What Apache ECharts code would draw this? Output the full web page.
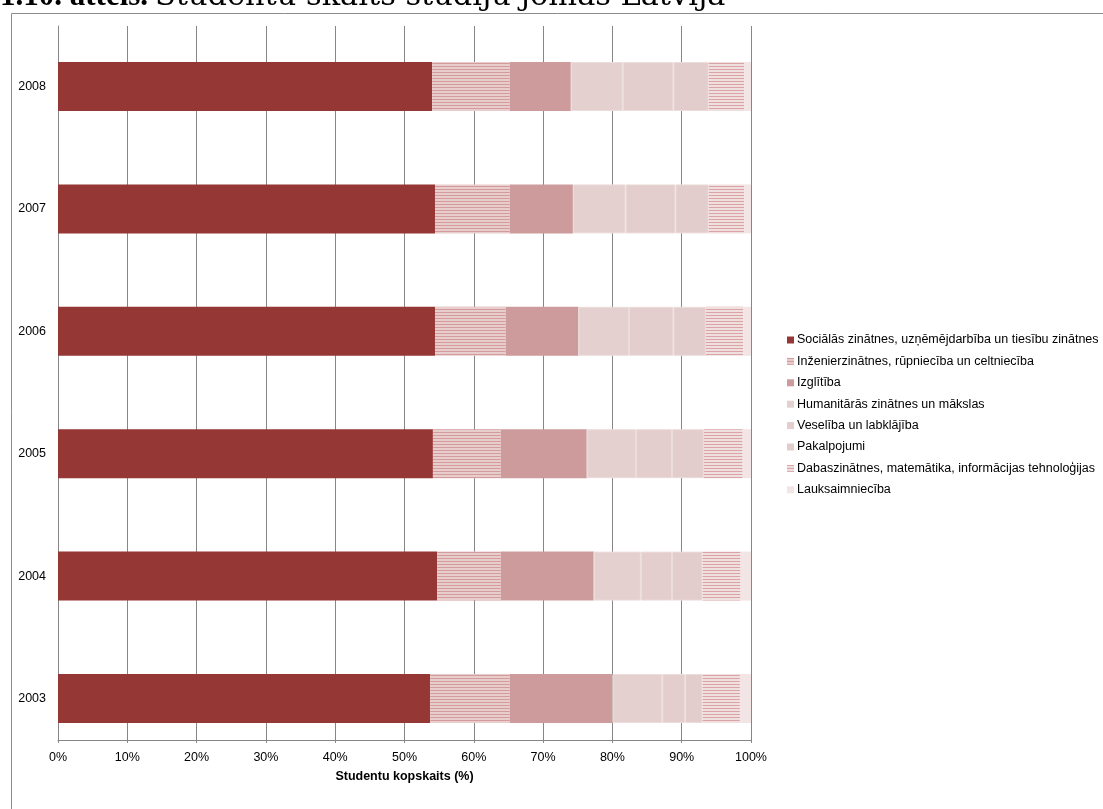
<!DOCTYPE html>
<html>
<head>
<meta charset="utf-8">
<script src="https://cdn.jsdelivr.net/npm/echarts@6/dist/echarts.min.js"></script>
<style>
html,body{margin:0;padding:0;background:#fff;}
#c{width:1103px;height:809px;}
</style>
</head>
<body>
<div id="c"></div>
<script>
const years = ['2003','2004','2005','2006','2007','2008'];
const seriesNames = [
  'Sociālās zinātnes, uzņēmējdarbība un tiesību zinātnes',
  'Inženierzinātnes, rūpniecība un celtniecība',
  'Izglītība',
  'Humanitārās zinātnes un mākslas',
  'Veselība un labklājība',
  'Pakalpojumi',
  'Dabaszinātnes, matemātika, informācijas tehnoloģijas',
  'Lauksaimniecība'
];
// values per series, order: 2003..2008 (percent of total)
const social      = [53.7, 54.7, 54.1, 54.4, 54.4, 54.0];
const engineering = [11.5,  9.2,  9.8, 10.2, 10.8, 11.2];
const education   = [14.8, 13.4, 12.4, 10.5,  9.1,  8.8];
const humanities  = [ 7.2,  6.8,  7.1,  7.3,  7.6,  7.5];
const health      = [ 3.3,  4.5,  5.2,  6.4,  7.2,  7.3];
const services    = [ 2.5,  4.4,  4.6,  4.7,  4.8,  5.1];
const science     = [ 5.4,  5.5,  5.6,  5.4,  5.1,  5.1];
const agriculture = [ 1.6,  1.5,  1.2,  1.1,  1.0,  1.0];
const xTickLabels = ['0%','10%','20%','30%','40%','50%','60%','70%','80%','90%','100%'];

function stripes(base, line){
  const cv = document.createElement('canvas');
  cv.width = 4; cv.height = 3;
  const ctx = cv.getContext('2d');
  ctx.fillStyle = base; ctx.fillRect(0,0,4,3);
  ctx.fillStyle = line; ctx.fillRect(0,0,4,1);
  return {image: cv, repeat: 'repeat'};
}

const allData = [social, engineering, education, humanities, health, services, science, agriculture];
const colors = [
  '#953735',
  stripes('#E8CDCD', '#D59A9C'),
  '#CD9B9B',
  '#E5D0D0',
  '#E4CDCD',
  '#E3CCCC',
  stripes('#F0DFDF', '#DBA3A5'),
  '#F3E5E5'
];
const borders = [null, null, null, '#ECDCDC', '#ECDCDC', '#ECDCDC', null, null];

const chart = echarts.init(document.getElementById('c'), null, {renderer:'canvas'});
const font = 'Liberation Sans, Arial, sans-serif';
const fs = 12.5;
chart.setOption({
  animation: false,
  backgroundColor: '#fff',
  grid: [
    {left: 58, right: 352, top: 25.3, bottom: 49.3, containLabel: false},
    {left: 58, right: 352, top: 26, bottom: 69, containLabel: false}
  ],
  legend: {
    orient: 'vertical',
    left: 787, top: 333.5, padding: 0,
    itemWidth: 7, itemHeight: 7, itemGap: 8.4,
    icon: 'rect',
    itemStyle: {borderWidth: 0},
    textStyle: {fontFamily: font, fontSize: fs, color: '#000', padding:[0,0,0,-2]},
    data: seriesNames
  },
  xAxis: [
    {
      gridIndex: 0, type: 'value', min: 0, max: 100, interval: 10,
      axisLine: {show: false}, axisTick: {show: false},
      splitLine: {show: false}, axisLabel: {show: false}
    },
    {
      gridIndex: 1, type: 'value', min: 0, max: 100, interval: 10,
      axisLine: {show: true, lineStyle: {color: '#868686'}},
      axisTick: {show: true, length: 3, lineStyle: {color: '#868686'}},
      splitLine: {show: true, lineStyle: {color: '#868686', width: 1}},
      axisLabel: {fontFamily: font, fontSize: fs, color: '#000', margin: 11,
        formatter: (v) => xTickLabels[Math.round(v/10)]},
      name: 'Studentu kopskaits (%)',
      nameLocation: 'middle', nameGap: 30,
      nameTextStyle: {fontFamily: font, fontSize: fs, fontWeight: 'bold', color: '#000'}
    }
  ],
  yAxis: [
    {
      gridIndex: 0, type: 'category', data: years,
      axisLine: {show: false},
      axisTick: {show: false},
      axisLabel: {fontFamily: font, fontSize: fs, color: '#000', margin: 12}
    },
    {
      gridIndex: 1, type: 'value', min: 0, max: 1,
      axisLine: {show: true, lineStyle: {color: '#868686'}},
      axisTick: {show: false}, axisLabel: {show: false}, splitLine: {show: false}
    }
  ],
  series: seriesNames.map((n, i) => ({
    name: n, type: 'bar', stack: 'total', barWidth: 49,
    xAxisIndex: 0, yAxisIndex: 0,
    data: allData[i],
    itemStyle: Object.assign({color: colors[i]},
      borders[i] ? {borderColor: borders[i], borderWidth: 1} : {})
  })),
  graphic: [
    {type: 'rect', shape: {x: 11.5, y: 13.5, width: 1100, height: 800},
     style: {fill: 'none', stroke: '#8C8C8C', lineWidth: 1}, silent: true, z: -1},
    {type: 'text', x: 0, y: 12,
     style: {text: '1.10. attēls.', fontFamily: 'Liberation Serif, serif', fontSize: 31,
       fontWeight: 'bold', fill: '#000', verticalAlign: 'bottom', align: 'left'}},
    {type: 'text', x: 155, y: 12,
     style: {text: 'Studentu skaits studiju jomās Latvijā', fontFamily: 'DejaVu Serif, serif', fontSize: 30.4,
       fill: '#000', verticalAlign: 'bottom', align: 'left'}}
  ]
});
</script>
</body>
</html>
